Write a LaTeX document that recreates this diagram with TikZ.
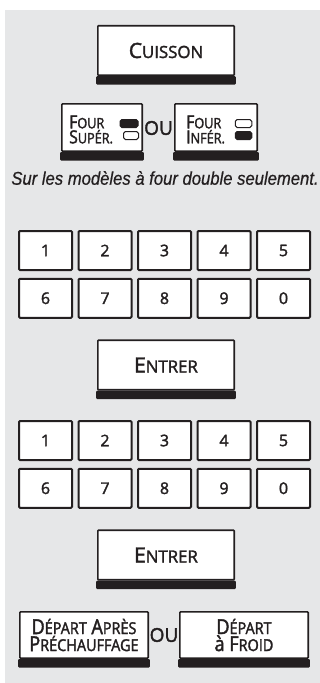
\documentclass[tikz,border=0pt]{standalone}
\usepackage{fontspec}
\setmainfont[FakeBold=2]{Open Sans}
\newfontfamily\narrowfont[FakeBold=2,FakeStretch=0.88]{Open Sans}
\newfontfamily\notefont[FakeStretch=0.9,FakeBold=0.6]{Liberation Sans}
\usetikzlibrary{positioning}
\newcommand\smc[2]{#1\scalebox{0.8}{#2}}
\definecolor{panel}{HTML}{E6E7E8}
\definecolor{ink}{HTML}{231F20}
\tikzset{
  button/.style={draw=ink, line width=1.6pt, fill=white, inner sep=0pt, rounded corners=0.8pt, text=ink},
  bigbtn/.style={button, minimum width=136.4pt, minimum height=49.5pt, font=\fontsize{21}{22}\selectfont},
  key/.style={draw=ink, line width=2pt, fill=white, rounded corners=1pt, minimum width=53pt, minimum height=39pt, text=ink, font=\fontsize{16}{16}\selectfont},
  lamp/.style={draw=ink, line width=1pt, rounded corners=1.8pt, minimum height=8pt, inner sep=0pt},
  note/.style={text=ink, font=\notefont\itshape\fontsize{18.5}{18}\selectfont},
  orword/.style={text=ink, font=\fontsize{19}{19}\selectfont, inner sep=0pt},
  ovenlbl/.style={anchor=west, align=left, inner sep=0pt, text=ink, font=\narrowfont\fontsize{18}{15}\selectfont},
  startbtn/.style={button, minimum width=128.4pt, minimum height=46.4pt, align=center, font=\narrowfont\fontsize{20.5}{17}\selectfont},
}
\begin{document}
\begin{tikzpicture}[x=1pt, y=-1pt]
  \useasboundingbox (0,0) rectangle (320,683);
  \fill[panel] (5,10) rectangle (320,683);

  % oven selection
  \node[bigbtn] (cuisson) at (166,50.5) {\smc{C}{UISSON}};
  \node[button, minimum width=80.4pt, minimum height=47.4pt] (sup) at (102,127.5) {};
  \node[button, minimum width=82.4pt, minimum height=47.4pt] (inf) at (216,127.5) {};
  \node[ovenlbl] (suptxt) at (69,129.5) {\smc{F}{OUR}\\\smc{S}{UPÉR.}};
  \node[ovenlbl] (inftxt) at (186,129.5) {\smc{F}{OUR}\\\smc{I}{NFÉR.}};
  \node[lamp, fill=ink, minimum width=18pt] (supon) at (129,123.5) {};
  \node[lamp, minimum width=15pt] (supoff) at (131,135.5) {};
  \node[lamp, minimum width=16.5pt] (infoff) at (243.5,123.5) {};
  \node[lamp, fill=ink, minimum width=16.5pt] (infon) at (243.5,135.5) {};
  \node[orword] (ou1) at (158.5,128) {OU};
  \node[note] (note) at (165,178) {Sur les modèles à four double seulement.};

  % keypads
  \foreach \pad/\y in {a/250.5, b/440.5}
    \foreach \d [count=\i from 0] in {1,2,3,4,5,6,7,8,9,0} {
      \pgfmathsetmacro\kx{45.5+59.5*mod(\i,5)}
      \pgfmathsetmacro\ky{\y+47.75*int(\i/5)}
      \node[key] (\pad\d) at (\kx,\ky) {\d};
    }
  \node[bigbtn] (entrerA) at (166,365) {\smc{E}{NTRER}};
  \node[bigbtn] (entrerB) at (166,555) {\smc{E}{NTRER}};

  % start mode
  \node[startbtn] (apres) at (84,635) {\smc{D}{ÉPART} \smc{A}{PRÈS}\\\smc{P}{RÉCHAUFFAGE}};
  \node[startbtn] (froid) at (244,635) {\smc{D}{ÉPART}\\à \smc{F}{ROID}};
  \node[orword] (ou2) at (164,635) {OU};

  % black lower edge of the buttons
  \foreach \b in {cuisson,sup,inf,entrerA,entrerB,apres,froid}
    \fill[ink, rounded corners=1pt] ([xshift=-0.8pt]\b.south west) rectangle ([xshift=0.8pt,yshift=-8.5pt]\b.south east);
\end{tikzpicture}
\end{document}
